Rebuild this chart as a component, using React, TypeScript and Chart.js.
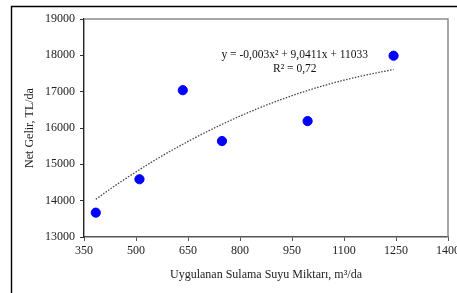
import React, { useEffect, useRef } from "react";
import { Chart, registerables } from "chart.js";

Chart.register(...registerables);

// Measured data points (irrigation water m3/da, net income TL/da)
const waterAmounts = [384, 510, 635, 748, 995, 1243];
const netIncome = [13670, 14590, 17040, 15640, 16190, 17990];

// Polynomial trendline
const trendX = [384, 450, 550, 650, 750, 850, 950, 1050, 1150, 1243];
const trendY = [14040, 14480, 15090, 15630, 16110, 16530, 16890, 17190, 17430, 17610];

const xTicks = [350, 500, 650, 800, 950, 1100, 1250, 1400];
const yTicks = [13000, 14000, 15000, 16000, 17000, 18000, 19000];

const equationText = "y = -0,003x² + 9,0411x + 11033";
const r2Text = "R² = 0,72";
const xTitle = "Uygulanan Sulama Suyu Miktarı, m³/da";
const yTitle = "Net Gelir, TL/da";

// anchors of the equation label in data space
const eqAnchorX = 958;
const eqAnchorY1 = 18010;
const eqAnchorY2 = 17625;

const FONT = "'Liberation Serif', 'Times New Roman', serif";

const framePlugin = {
  id: "frameAndLabels",
  beforeDraw(chart: any) {
    const { ctx, width, height } = chart;
    ctx.save();
    ctx.fillStyle = "#ffffff";
    ctx.fillRect(0, 0, width, height);
    ctx.restore();
  },
  afterDraw(chart: any) {
    const { ctx, chartArea, scales, width, height } = chart;
    ctx.save();
    // outer frame (top + left visible)
    ctx.strokeStyle = "#000";
    ctx.lineWidth = 1.4;
    ctx.beginPath();
    ctx.moveTo(width + 2, 6.5);
    ctx.lineTo(11.5, 6.5);
    ctx.lineTo(11.5, height + 2);
    ctx.stroke();
    // plot area top/right border
    ctx.strokeStyle = "#8c8c8c";
    ctx.lineWidth = 1.5;
    ctx.beginPath();
    ctx.moveTo(chartArea.left, chartArea.top);
    ctx.lineTo(chartArea.right, chartArea.top);
    ctx.lineTo(chartArea.right, chartArea.bottom);
    ctx.stroke();
    // equation text
    ctx.fillStyle = "#111";
    ctx.font = `11.5px ${FONT}`;
    ctx.textAlign = "center";
    ctx.textBaseline = "middle";
    const ex = scales.x.getPixelForValue(eqAnchorX);
    ctx.fillText(equationText, ex, scales.y.getPixelForValue(eqAnchorY1));
    ctx.fillText(r2Text, ex, scales.y.getPixelForValue(eqAnchorY2));
    ctx.restore();
  },
};

export default function App() {
  const ref = useRef<HTMLCanvasElement | null>(null);

  useEffect(() => {
    if (!ref.current) return;
    const chart = new Chart(ref.current, {
      type: "scatter",
      data: {
        datasets: [
          {
            label: "Net Gelir",
            data: waterAmounts.map((x, i) => ({ x, y: netIncome[i] })),
            backgroundColor: "#0000ff",
            borderColor: "#0000ff",
            pointRadius: 4.6,
            pointHoverRadius: 4.6,
            order: 1,
          },
          {
            label: "Trend",
            type: "line",
            data: trendX.map((x, i) => ({ x, y: trendY[i] })),
            borderColor: "#444",
            borderWidth: 1.3,
            borderDash: [1.5, 1.5],
            pointRadius: 0,
            fill: false,
            cubicInterpolationMode: "monotone",
            order: 2,
          } as any,
        ],
      },
      options: {
        responsive: false,
        animation: false,
        layout: { padding: { left: 0, top: 19, right: 9, bottom: 0 } },
        plugins: {
          legend: { display: false },
          tooltip: { enabled: false },
        },
        scales: {
          x: {
            type: "linear",
            min: 350,
            max: 1400,
            afterBuildTicks: (s: any) => {
              s.ticks = xTicks.map((v) => ({ value: v }));
            },
            afterFit: (s: any) => {
              s.height = 56;
              s.paddingLeft = 0;
              s.paddingRight = 0;
            },
            grid: {
              drawOnChartArea: false,
              drawTicks: true,
              tickLength: 4,
              color: "#555",
            },
            border: { color: "#555", width: 1.4 },
            ticks: {
              padding: 3,
              color: "#222",
              font: { family: FONT, size: 12 },
              maxRotation: 0,
              autoSkip: false,
              callback: (v: any) => String(v),
            },
            title: {
              display: true,
              text: xTitle,
              color: "#222",
              font: { family: FONT, size: 12 },
              padding: { top: 0, bottom: 11 },
            },
          },
          y: {
            type: "linear",
            min: 13000,
            max: 19000,
            afterBuildTicks: (s: any) => {
              s.ticks = yTicks.map((v) => ({ value: v }));
            },
            afterFit: (s: any) => {
              s.width = 84;
            },
            grid: {
              drawOnChartArea: false,
              drawTicks: true,
              tickLength: 4,
              color: "#333",
            },
            border: { color: "#222", width: 1.4 },
            ticks: {
              padding: 5,
              color: "#222",
              font: { family: FONT, size: 12 },
              autoSkip: false,
              callback: (v: any) => String(v),
            },
            title: {
              display: true,
              text: yTitle,
              color: "#222",
              font: { family: FONT, size: 12 },
              padding: { top: 23, bottom: 0 },
            },
          },
        },
      },
      plugins: [framePlugin],
    });
    return () => chart.destroy();
  }, []);

  return (
    <div style={{ position: "fixed", left: 0, top: 0, width: 457, height: 293, background: "#fff" }}>
      <canvas ref={ref} width={457} height={293} style={{ display: "block" }} />
    </div>
  );
}
